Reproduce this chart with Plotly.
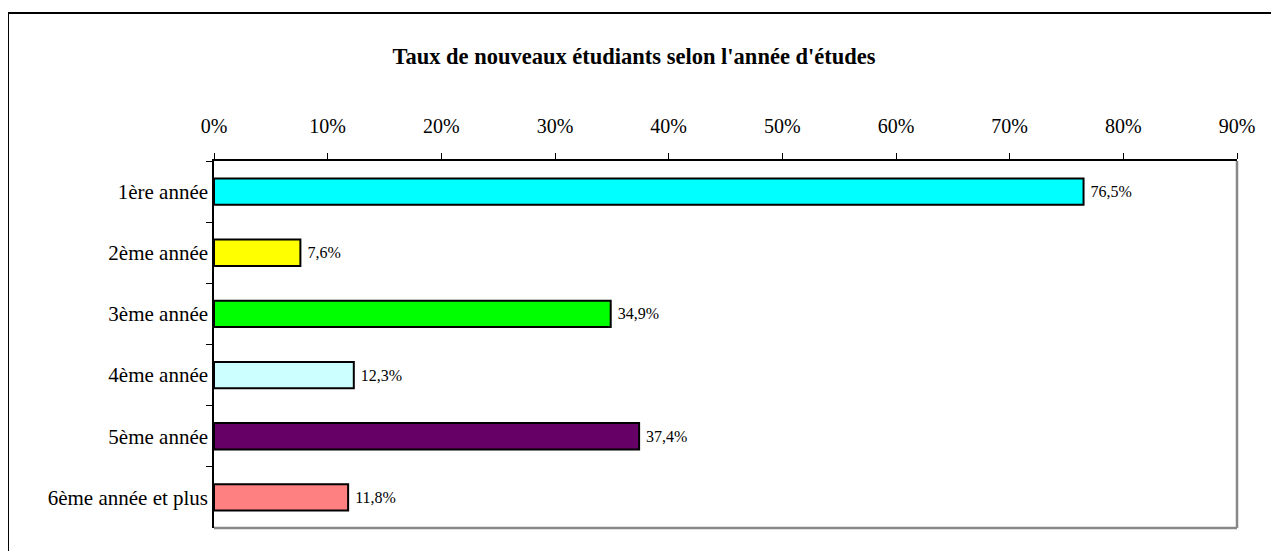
import plotly.graph_objects as go

categories = ["1ère année", "2ème année", "3ème année", "4ème année", "5ème année", "6ème année et plus"]
values = [76.5, 7.6, 34.9, 12.3, 37.4, 11.8]
colors = ["#00FFFF", "#FFFF00", "#00FF00", "#CCFFFF", "#660066", "#FF8080"]
tick_vals = [0, 10, 20, 30, 40, 50, 60, 70, 80, 90]
tick_text = [f"{v}%" for v in tick_vals]
labels = ["\u00a0" + f"{v:.1f}".replace(".", ",") + "%" for v in values]

FONT = "Liberation Serif, Times New Roman, serif"

# page body has an 8px margin; work in reference-pixel coordinates then shift
OFF = 8
W, H = 1279 - OFF, 551 - OFF
PL, PR, PT, PB = 214, 1237, 161, 528   # plot area in reference pixels
L, R, T, B = PL - OFF, (W + OFF) - PR, PT - OFF, (H + OFF) - PB
pw, ph = PR - PL, PB - PT

def px_x(p):
    return (p - PL) / pw

def px_y(p):
    return 1 - (p - PT) / ph

fig = go.Figure(go.Bar(
    y=categories, x=values, orientation="h",
    marker=dict(color=colors, line=dict(color="black", width=2)),
    width=0.43,
    text=labels, textposition="outside", cliponaxis=False,
    textfont=dict(family=FONT, size=16, color="black"),
))

fig.update_layout(
    width=W, height=H,
    margin=dict(l=L, r=R, t=T, b=B, pad=0),
    paper_bgcolor="white", plot_bgcolor="white",
    showlegend=False,
    font=dict(family=FONT, size=20, color="black"),
    title=dict(text="<b>Taux de nouveaux étudiants selon l'année d'études</b>",
               x=(634 - OFF) / W, xanchor="center", y=1 - (56 - OFF) / H, yanchor="middle",
               font=dict(family=FONT, size=22.5, color="black")),
    xaxis=dict(side="top", range=[0, 90], tickmode="array", tickvals=tick_vals, ticktext=tick_text,
               showgrid=False, zeroline=False, showline=True, linecolor="black", linewidth=1.5,
               ticks="outside", ticklen=6, tickcolor="black", tickwidth=1,
               ticklabelstandoff=12,
               tickfont=dict(family=FONT, size=20)),
    yaxis=dict(autorange="reversed", type="category", tickson="boundaries",
               showgrid=False, zeroline=False, showline=True, linecolor="black", linewidth=1.5,
               ticks="outside", ticklen=6, tickcolor="black", tickwidth=1,
               tickfont=dict(family=FONT, size=21)),
    shapes=[
        dict(type="line", xref="paper", yref="paper", x0=1, x1=1, y0=0, y1=1,
             line=dict(color="#888888", width=2.5)),
        dict(type="line", xref="paper", yref="paper", x0=0, x1=1, y0=0, y1=0,
             line=dict(color="#888888", width=2.5)),
        dict(type="line", xref="paper", yref="paper", x0=px_x(8), x1=px_x(1300), y0=px_y(13), y1=px_y(13),
             line=dict(color="black", width=2)),
        dict(type="line", xref="paper", yref="paper", x0=px_x(8), x1=px_x(8), y0=px_y(13), y1=px_y(600),
             line=dict(color="black", width=2)),
    ],
)

fig.write_html("out.html")
